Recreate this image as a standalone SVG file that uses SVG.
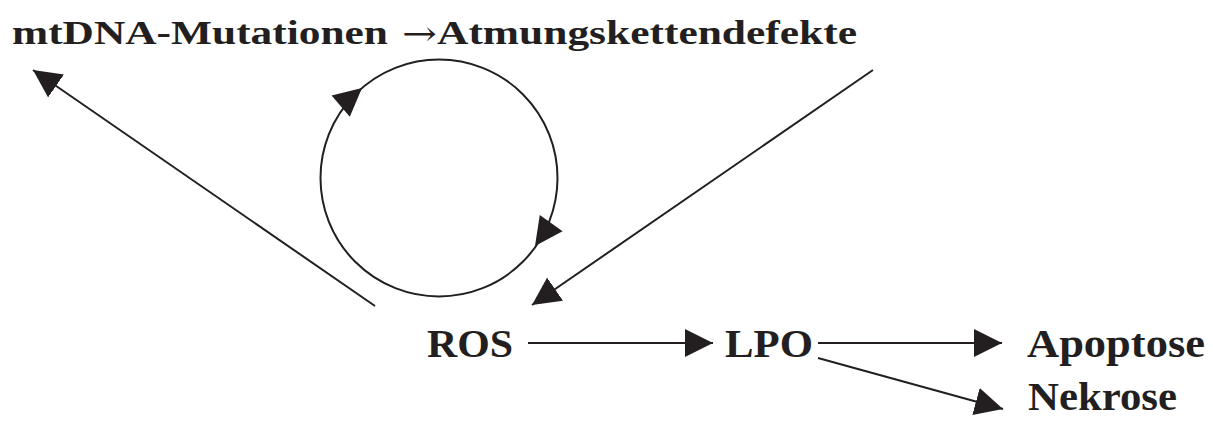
<svg xmlns="http://www.w3.org/2000/svg" width="1213" height="435" viewBox="0 0 1213 435">
  <style>
    .t { font-family: "Liberation Serif", "Times New Roman", serif; font-weight: bold; fill: #231f20; }
    .title { font-size: 33px; }
    .sym { font-family: "DejaVu Serif", "DejaVu Sans", serif; font-weight: normal; font-size: 34px; fill: #231f20; }
    .lbl { font-size: 41px; }
    .ln { stroke: #231f20; stroke-width: 2; fill: none; }
    .ah { fill: #231f20; stroke: none; }
  </style>
  <defs>
    <marker id="arr" markerUnits="userSpaceOnUse" markerWidth="28" markerHeight="28" refX="28" refY="14" orient="auto" viewBox="0 0 28 28">
      <path d="M0,0 L28,14 L0,28 z" fill="#231f20"/>
    </marker>
  </defs>

  <g id="title">
    <text class="t title" x="12" y="43.5" textLength="376" lengthAdjust="spacingAndGlyphs">mtDNA-Mutationen</text>
    <text class="sym" x="402" y="45" textLength="35" lengthAdjust="spacingAndGlyphs">→</text>
    <text class="t title" x="437" y="43.5" textLength="420" lengthAdjust="spacingAndGlyphs">Atmungskettendefekte</text>
  </g>

  <g id="cycle">
    <circle class="ln" cx="439" cy="178" r="118.5"/>
    <polygon class="ah" points="362,88 349.8,116.8 331.6,95.6"/>
    <polygon class="ah" points="535,246 562.6,231.3 539.8,215.1"/>
  </g>

  <g id="ROS"><text class="t lbl" x="427" y="357" textLength="86" lengthAdjust="spacingAndGlyphs">ROS</text></g>
  <g id="LPO"><text class="t lbl" x="725" y="357" textLength="88" lengthAdjust="spacingAndGlyphs">LPO</text></g>
  <g id="Apoptose"><text class="t lbl" x="1027" y="357" textLength="178" lengthAdjust="spacingAndGlyphs">Apoptose</text></g>
  <g id="Nekrose"><text class="t lbl" x="1028" y="410" textLength="149" lengthAdjust="spacingAndGlyphs">Nekrose</text></g>

  <g id="connectors">
    <line class="ln" x1="375" y1="306" x2="33" y2="70" marker-end="url(#arr)"/>
    <line class="ln" x1="873" y1="70" x2="532" y2="305" marker-end="url(#arr)"/>
    <line class="ln" x1="528" y1="343" x2="713" y2="343" marker-end="url(#arr)"/>
    <line class="ln" x1="818" y1="343" x2="1002" y2="343" marker-end="url(#arr)"/>
    <line class="ln" x1="818" y1="358" x2="1003" y2="409" marker-end="url(#arr)"/>
  </g>
</svg>
